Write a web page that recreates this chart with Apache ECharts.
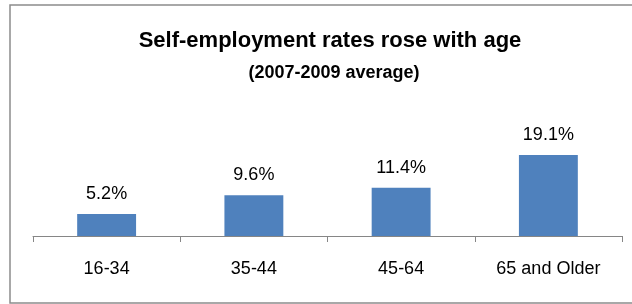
<!DOCTYPE html>
<html>
<head>
<meta charset="utf-8">
<script src="https://cdn.jsdelivr.net/npm/echarts@6/dist/echarts.min.js"></script>
<style>
html,body{margin:0;padding:0;background:#fff;}
#chart{width:632px;height:304px;}
</style>
</head>
<body>
<div id="chart"></div>
<script>
var categories = ['16-34', '35-44', '45-64', '65 and Older'];
var rates = [5.2, 9.6, 11.4, 19.1];
var titleText = 'Self-employment rates rose with age';
var subtitleText = '(2007-2009 average)';

var chart = echarts.init(document.getElementById('chart'), null, {renderer: 'canvas'});
var font = '"Liberation Sans", Arial, sans-serif';
chart.setOption({
  animation: false,
  backgroundColor: '#fff',
  title: [
    {text: titleText, left: 325, top: 25, textAlign: 'center',
     textStyle: {fontFamily: font, fontWeight: 'bold', fontSize: 22, color: '#000'}},
    {text: subtitleText, left: 329, top: 59, textAlign: 'center',
     textStyle: {fontFamily: font, fontWeight: 'bold', fontSize: 18, color: '#000'}}
  ],
  graphic: [{
    type: 'rect', silent: true,
    shape: {x: 10, y: 5, width: 640, height: 298},
    style: {fill: 'none', stroke: '#8c8c8c', lineWidth: 1.5}
  }],
  grid: {left: 33, right: 10, top: 130, bottom: 68, containLabel: false},
  xAxis: {
    type: 'category', data: categories,
    axisLine: {show: true, lineStyle: {color: '#868686', width: 1}},
    axisTick: {show: true, length: 6, alignWithLabel: false, lineStyle: {color: '#868686'}},
    axisLabel: {margin: 24, fontFamily: font, fontSize: 18, color: '#000'}
  },
  yAxis: {type: 'value', min: 0, max: 25, show: false, splitLine: {show: false}},
  series: [{
    type: 'bar', data: rates, barCategoryGap: '60%',
    itemStyle: {color: '#4F81BD'},
    label: {show: true, position: 'top', distance: 11, fontFamily: font, fontSize: 18, color: '#000',
            formatter: function(p){ return p.value.toFixed(1) + '%'; }}
  }]
});
</script>
</body>
</html>
